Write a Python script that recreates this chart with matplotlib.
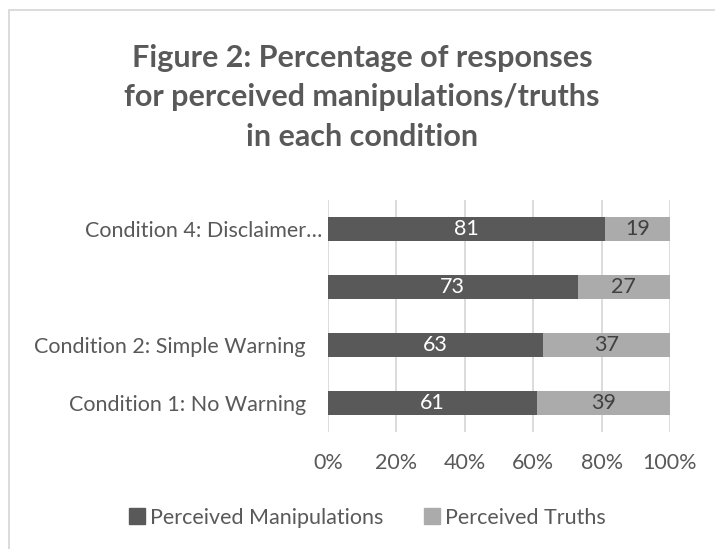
import matplotlib.pyplot as plt
from matplotlib.patches import Rectangle
from matplotlib.lines import Line2D
from matplotlib.transforms import ScaledTranslation

# data
categories = ['Condition 1: No Warning', 'Condition 2: Simple Warning', '', 'Condition 4: Disclaimer…']
manipulations = [61, 63, 73, 81]
truths = [39, 37, 27, 19]
series_names = ['Perceived Manipulations', 'Perceived Truths']
xticks = [0, 20, 40, 60, 80, 100]
xtick_labels = ['0%', '20%', '40%', '60%', '80%', '100%']

dark = '#595959'
light = '#ABABAB'
txt = '#595959'
grid = '#D9D9D9'
fs = 15.5

plt.rcParams['font.family'] = ['Lato', 'DejaVu Sans']

fig = plt.figure(figsize=(7.15, 5.49), dpi=100)

# chart-area border (cropped on the right and bottom)
fig.patches.append(Rectangle((9 / 715, -0.1), 1.2, (549 - 10) / 549 + 0.1, transform=fig.transFigure,
                             fill=False, edgecolor=grid, linewidth=1.3))

fig.text(362 / 715, 1 - 97 / 549, 'Figure 2: Percentage of responses\nfor perceived manipulations/truths\nin each condition',
         ha='center', va='center', multialignment='center', fontsize=22, fontweight='bold',
         color=txt, linespacing=1.5)

ax = fig.add_axes([328 / 715, (549 - 432) / 549, (670 - 328) / 715, (432 - 200) / 549])
y = range(len(categories))
ax.barh(y, manipulations, height=0.4, color=dark, zorder=3, label=series_names[0])
ax.barh(y, truths, left=manipulations, height=0.4, color=light, zorder=3, label=series_names[1])

for i in y:
    ax.text(manipulations[i] / 2, i, str(manipulations[i]), ha='center', va='center',
            color='white', fontsize=fs, zorder=4)
    ax.text(manipulations[i] + truths[i] / 2, i, str(truths[i]), ha='center', va='center',
            color='#404040', fontsize=fs, zorder=4)

ax.set_xlim(0, 100)
ax.set_ylim(-0.5, 3.5)
ax.set_xticks(xticks)
ax.set_xticklabels(xtick_labels)
ax.set_yticks(list(y))
ax.set_yticklabels(categories)
ax.tick_params(axis='both', length=0, colors=txt, labelsize=fs)
ax.tick_params(axis='x', pad=15)
ax.tick_params(axis='y', pad=16)
# the truncated label sits a bit further right, as in the original
lab = ax.get_yticklabels()[3]
lab.set_transform(lab.get_transform() + ScaledTranslation(16 / 100, 0, fig.dpi_scale_trans))
ax.grid(axis='x', color=grid, linewidth=1.3, zorder=0)
for s in ax.spines.values():
    s.set_visible(False)

handles = [Line2D([], [], marker='s', linestyle='', markersize=11, color=dark),
           Line2D([], [], marker='s', linestyle='', markersize=11, color=light)]
fig.legend(handles, series_names, loc='center', bbox_to_anchor=(366 / 715, 1 - 518 / 549),
           ncol=2, frameon=False, fontsize=fs, labelcolor=txt, handletextpad=0.1,
           columnspacing=1.8, handlelength=1.0)

fig.savefig('out.png', dpi=100)
